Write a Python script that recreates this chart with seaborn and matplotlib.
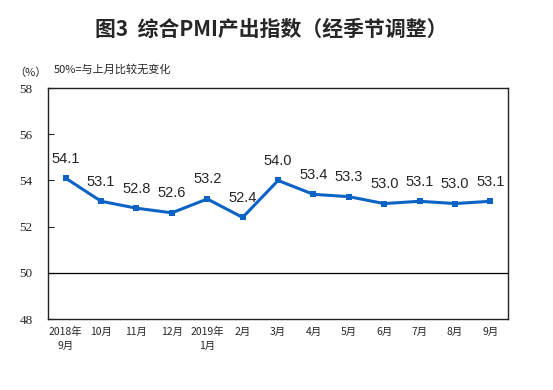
import matplotlib
matplotlib.use('Agg')
import matplotlib.pyplot as plt
import seaborn as sns
import pandas as pd

months = ['2018年\n9月', '10月', '11月', '12月', '2019年\n1月', '2月', '3月',
          '4月', '5月', '6月', '7月', '8月', '9月']
pmi = [54.1, 53.1, 52.8, 52.6, 53.2, 52.4, 54.0, 53.4, 53.3, 53.0, 53.1, 53.0, 53.1]
yticks = [48, 50, 52, 54, 56, 58]

sns.set_theme(style='white')
plt.rcParams['font.family'] = ['Noto Sans CJK SC', 'DejaVu Sans']

df = pd.DataFrame({'month': months, 'pmi': pmi})
df['x'] = range(len(df))

fig = plt.figure(figsize=(5.53, 3.90), dpi=100)
ax = fig.add_axes([0.0868, 0.182, 0.832, 0.592])

ax.axhline(50, color='black', lw=0.9, zorder=1)
sns.lineplot(data=df, x='x', y='pmi', ax=ax, color='#0b63c6', lw=2.2,
             marker='s', markersize=5, markeredgewidth=0, zorder=3)

for x, v in zip(df['x'], df['pmi']):
    ax.annotate(f'{v:.1f}', (x, v), xytext=(0, 9), textcoords='offset points',
                ha='center', va='bottom', fontsize=10.5, family='Liberation Sans')

ax.set_xlim(-0.5, len(months) - 0.5)
ax.set_ylim(48, 58)
ax.set_yticks(yticks)
ax.set_yticklabels([str(t) for t in yticks], family='Liberation Serif', fontsize=9.5)
ax.set_xticks(df['x'])
ax.set_xticklabels(months, fontsize=7.5, linespacing=1.4, va='top')
ax.tick_params(axis='y', direction='in', length=4, width=0.8, left=True, pad=11)
ax.tick_params(axis='x', length=0, pad=6)
for s in ax.spines.values():
    s.set_color('#222222')
    s.set_linewidth(1.0)
ax.set_xlabel('')
ax.set_ylabel('')

fig.text(0.49, 0.925, '图3  综合PMI产出指数（经季节调整）', ha='center', va='center',
         fontsize=15, fontweight='bold')
fig.text(0.055, 0.815, '（%）', ha='center', va='center', fontsize=8)
fig.text(0.097, 0.822, '50%=与上月比较无变化', ha='left', va='center', fontsize=8)

fig.savefig('out.png', dpi=100)
